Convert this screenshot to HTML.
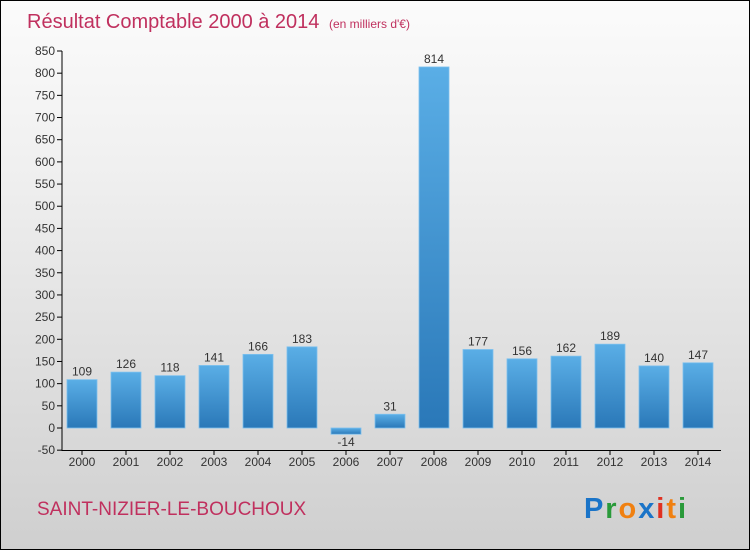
<!DOCTYPE html>
<html><head><meta charset="utf-8"><style>
body{margin:0}
#c{width:748px;height:548px;border:1px solid #000;background:linear-gradient(#fbfbfb,#f0f0f0 30%,#cfcfcf);position:relative;font-family:"Liberation Sans",sans-serif;overflow:hidden}
</style></head><body>
<div id="c">
<svg id="s" width="748" height="548">
<defs><linearGradient id="g" x1="0" y1="0" x2="0" y2="1"><stop offset="0" stop-color="#5aaee6"/><stop offset="1" stop-color="#2a78b8"/></linearGradient></defs>
<text x="26" y="27" font-size="20" fill="#c0305e">Résultat Comptable 2000 à 2014 <tspan font-size="12" dx="4">(en milliers d'€)</tspan></text>
<text x="36" y="514" font-size="19" fill="#c0305e">SAINT-NIZIER-LE-BOUCHOUX</text>
<text x="583" y="517" font-size="29" font-weight="bold" textLength="102"><tspan fill="#1a74c8">P</tspan><tspan fill="#2a9a3a">r</tspan><tspan fill="#f08010">o</tspan><tspan fill="#1a74c8">x</tspan><tspan fill="#e03020">i</tspan><tspan fill="#f08010">t</tspan><tspan fill="#2a9a3a">i</tspan></text>
</svg></div>
<script>
const years=["2000","2001","2002","2003","2004","2005","2006","2007","2008","2009","2010","2011","2012","2013","2014"];
const values=[109,126,118,141,166,183,-14,31,814,177,156,162,189,140,147];
const ticks=[-50,0,50,100,150,200,250,300,350,400,450,500,550,600,650,700,750,800,850];
const s=document.getElementById('s'),NS='http://www.w3.org/2000/svg';
const y=v=>427-v*377/850, x=i=>81+i*44;
function mk(t,a,txt){const e=document.createElementNS(NS,t);for(const k in a)e.setAttribute(k,a[k]);if(txt!=null)e.textContent=txt;s.appendChild(e);return e;}
ticks.forEach(t=>{
 const l=mk('line',{x1:56,x2:61,y1:y(t),y2:y(t),stroke:'#000'});
 
 
 const tx=mk('text',{x:54,y:y(t)+4,'font-size':12,'text-anchor':'end',fill:'#333'},t);
 
 
});
values.forEach((v,i)=>{
 const r=mk('rect',{x:x(i)-15,y:Math.min(y(v),y(0)),width:30,height:Math.abs(y(v)-y(0)),fill:'url(#g)',stroke:'#7cc0ee','stroke-width':0.8});
 
 
 const t=mk('text',{x:x(i),y:v>=0?y(v)-4:y(v)+12,'font-size':12,'text-anchor':'middle',fill:'#333'},v<0?'-'+Math.abs(v):v);
 
 
 const tk=mk('line',{x1:x(i),x2:x(i),y1:449,y2:454,stroke:'#000'});
 
 
 const yl=mk('text',{x:x(i),y:465,'font-size':12,'text-anchor':'middle',fill:'#333'},years[i]);
 
 
});
const ya=mk('line',{x1:61,x2:61,y1:y(850),y2:450,stroke:'#000'});


const xa=mk('line',{x1:61,x2:720,y1:449.5,y2:449.5,stroke:'#000'});


</script>
</body></html>
